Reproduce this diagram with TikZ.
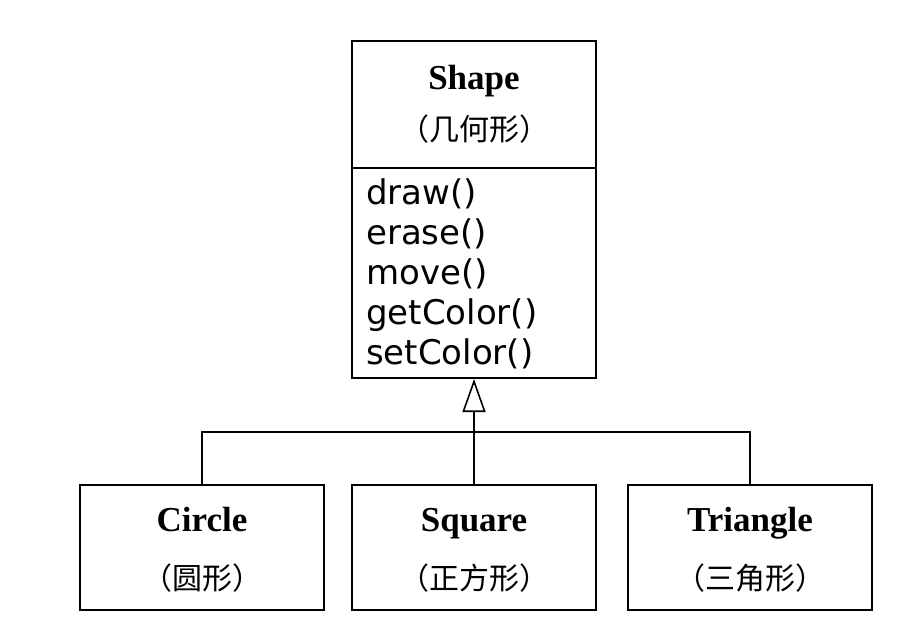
\documentclass[tikz,border=0pt]{standalone}
\usepackage{fontspec}
\setmainfont{Liberation Serif}
\newfontfamily\cjk{Noto Sans CJK SC}
\newfontfamily\methodfont{DejaVu Sans}
\usetikzlibrary{arrows.meta}
\begin{document}
\begin{tikzpicture}[x=1pt,y=-1pt,
  box/.style={draw,line width=2pt,minimum width=244pt,minimum height=125pt,inner sep=0pt},
  clsname/.style={font=\fontsize{35}{40}\selectfont\bfseries,inner sep=0pt,anchor=base},
  cnname/.style={font=\fontsize{30}{34}\selectfont\cjk,inner sep=0pt,anchor=base},
  method/.style={font=\fontsize{34}{40}\selectfont\methodfont,anchor=base west,inner sep=0pt},
  conn/.style={line width=1.6pt}]
\useasboundingbox (0,0) rectangle (924,644);
% Shape class
\node[draw,line width=2pt,minimum width=244pt,minimum height=337pt,inner sep=0pt] (shape) at (474,209.5) {};
\coordinate (divl) at (352,168);
\coordinate (divr) at (596,168);
\draw[line width=2pt] (divl) -- (divr);
\node[clsname] (shapename) at (474,90) {Shape};
\node[cnname] (shapecn) at (474,141) {（几何形）};
\node[method] (m1) at (366,205) {draw()};
\node[method] (m2) at (366,245) {erase()};
\node[method] (m3) at (366,285) {move()};
\node[method] (m4) at (366,325) {getColor()};
\node[method] (m5) at (366,365) {setColor()};
% subclasses
\node[box] (circle) at (202,547.5) {};
\node[box] (square) at (474,547.5) {};
\node[box] (triangle) at (750,547.5) {};
\node[clsname] (circlename) at (202,531) {Circle};
\node[cnname] (circlecn) at (202,589) {（圆形）};
\node[clsname] (squarename) at (474,531) {Square};
\node[cnname] (squarecn) at (474,589) {（正方形）};
\node[clsname] (trianglename) at (750,531) {Triangle};
\node[cnname] (trianglecn) at (750,589) {（三角形）};
% connectors
\coordinate (joint) at (474,432);
\draw[conn] (circle.north) |- (joint) -| (triangle.north);
\draw[conn,-{Triangle[open,length=33pt,width=23pt,line width=1.6pt]}] (square.north) -- (shape.south);
\end{tikzpicture}
\end{document}
